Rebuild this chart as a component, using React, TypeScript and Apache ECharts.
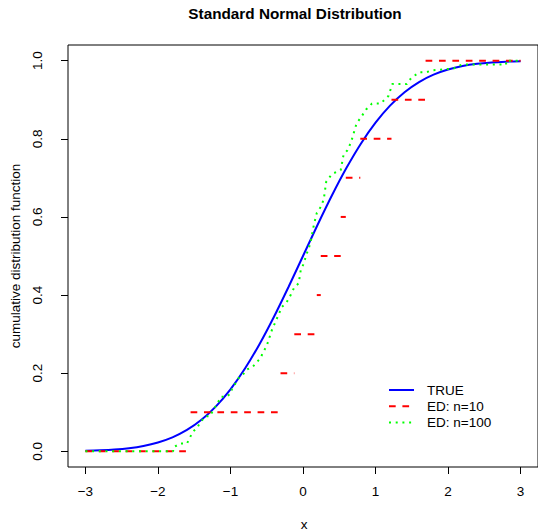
import React, { useEffect, useRef } from "react";
import * as echarts from "echarts";

// TRUE: standard normal CDF (table values)
const trueX = [-3, -2.8, -2.6, -2.4, -2.2, -2, -1.8, -1.6, -1.4, -1.2, -1, -0.8, -0.6, -0.4, -0.2, 0, 0.2, 0.4, 0.6, 0.8, 1, 1.2, 1.4, 1.6, 1.8, 2, 2.2, 2.4, 2.6, 2.8, 3];
const trueCdf = [0.0013, 0.0026, 0.0047, 0.0082, 0.0139, 0.0228, 0.0359, 0.0548, 0.0808, 0.1151, 0.1587, 0.2119, 0.2743, 0.3446, 0.4207, 0.5, 0.5793, 0.6554, 0.7257, 0.7881, 0.8413, 0.8849, 0.9192, 0.9452, 0.9641, 0.9772, 0.9861, 0.9918, 0.9953, 0.9974, 0.9987];

// ED n=10: step levels and segment bounds
const ed10Levels = [0, 0.1, 0.2, 0.3, 0.4, 0.5, 0.6, 0.7, 0.8, 0.9, 1.0];
const ed10Start = [-3, -1.55, -0.31, -0.12, 0.19, 0.245, 0.52, 0.59, 0.79, 1.22, 1.69];
const ed10End = [-1.55, -0.31, -0.12, 0.19, 0.245, 0.52, 0.59, 0.79, 1.22, 1.69, 3];

// ED n=100: path vertices
const ed100X = [-3, -1.79, -1.79, -1.69, -1.6, -1.56, -1.52, -1.46, -1.43, -1.39, -1.34, -1.28, -1.23, -1.18, -1.16, -1.13, -1.05, -0.99, -0.98, -0.91, -0.88, -0.81, -0.77, -0.7, -0.58, -0.56, -0.5, -0.43, -0.29, -0.23, -0.17, -0.12, -0.06, -0.03, 0.01, 0.04, 0.08, 0.11, 0.15, 0.19, 0.26, 0.29, 0.32, 0.36, 0.4, 0.52, 0.54, 0.56, 0.61, 0.66, 0.7, 0.74, 0.8, 0.87, 0.95, 1.07, 1.18, 1.23, 1.43, 1.49, 1.6, 1.69, 1.78, 2.08, 2.19, 2.8, 2.8, 3];
const ed100Y = [0, 0, 0.01, 0.02, 0.02, 0.035, 0.05, 0.06, 0.07, 0.08, 0.09, 0.09, 0.11, 0.12, 0.13, 0.14, 0.14, 0.15, 0.16, 0.18, 0.19, 0.2, 0.21, 0.215, 0.24, 0.25, 0.27, 0.31, 0.37, 0.38, 0.4, 0.42, 0.43, 0.465, 0.48, 0.5, 0.52, 0.54, 0.58, 0.61, 0.63, 0.65, 0.69, 0.7, 0.71, 0.72, 0.74, 0.76, 0.77, 0.79, 0.815, 0.84, 0.855, 0.875, 0.89, 0.89, 0.91, 0.94, 0.94, 0.955, 0.97, 0.97, 0.975, 0.98, 0.99, 0.99, 1.0, 1.0];

const xTicks = [-3, -2, -1, 0, 1, 2, 3];
const yTicks = [0, 0.2, 0.4, 0.6, 0.8, 1.0];

const FONT = "'Liberation Sans', Arial, Helvetica, sans-serif";

export default function App() {
  const ref = useRef<HTMLDivElement>(null);
  useEffect(() => {
    if (!ref.current) return;
    const chart = echarts.init(ref.current, null, { renderer: "svg" });
    const redSeries = ed10Levels.map((lv, i) => ({
      type: "line",
      name: "ED: n=10",
      data: [[ed10Start[i], lv], [ed10End[i], lv]],
      symbol: "none",
      lineStyle: { color: "#FF0000", width: 2, type: [6.7, 6.7] },
      itemStyle: { color: "#FF0000" },
      silent: true,
      z: 3,
    }));
    chart.setOption({
      animation: false,
      textStyle: { fontFamily: FONT },
      grid: { left: 68, top: 45, width: 472, height: 422, show: true, borderColor: "#000", borderWidth: 1, backgroundColor: "transparent" },
      xAxis: {
        type: "value",
        min: -3.24,
        max: 3.24,
        axisLine: { show: false, onZero: false },
        splitLine: { show: false },
        axisTick: { show: true, inside: false, length: 7, lineStyle: { color: "#000" }, customValues: xTicks },
        axisLabel: {
          customValues: xTicks,
          margin: 17,
          color: "#000",
          fontSize: 13.5,
          fontFamily: FONT,
          formatter: (v: number) => (v < 0 ? "\u2212" + Math.abs(v) : String(v)),
        },
      },
      yAxis: {
        type: "value",
        min: -0.04,
        max: 1.04,
        axisLine: { show: false, onZero: false },
        splitLine: { show: false },
        axisTick: { show: true, inside: false, length: 7, lineStyle: { color: "#000" }, customValues: yTicks },
        axisLabel: {
          customValues: yTicks,
          rotate: 90,
          margin: 24,
          color: "#000",
          fontSize: 13.5,
          fontFamily: FONT,
          formatter: (v: number) => v.toFixed(1),
        },
      },
      legend: {
        orient: "vertical",
        left: 388,
        top: 382,
        itemWidth: 25,
        itemHeight: 16,
        itemGap: 0.3,
        padding: 0,
        itemStyle: { opacity: 0 },
        data: ["TRUE", "ED: n=10", "ED: n=100"],
        textStyle: { color: "#000", fontSize: 13.5, fontFamily: FONT, lineHeight: 16, padding: [0, 0, 0, 8] },
      },
      graphic: [
        {
          type: "text",
          x: 295,
          y: 13,
          style: { text: "Standard Normal Distribution", font: `bold 15.3px ${FONT}`, fill: "#000", textAlign: "center", textVerticalAlign: "middle" },
        },
        {
          type: "text",
          x: 304,
          y: 524,
          style: { text: "x", font: `13.5px ${FONT}`, fill: "#000", textAlign: "center", textVerticalAlign: "middle" },
        },
        {
          type: "text",
          x: 15,
          y: 256,
          rotation: Math.PI / 2,
          style: { text: "cumulative distribution function", font: `13.5px ${FONT}`, fill: "#000", textAlign: "center", textVerticalAlign: "middle" },
        },
      ],
      series: [
        {
          type: "line",
          name: "TRUE",
          data: trueX.map((x, i) => [x, trueCdf[i]]),
          symbol: "none",
          smooth: 0.3,
          lineStyle: { color: "#0000FF", width: 2 },
          itemStyle: { color: "#0000FF" },
          silent: true,
          z: 2,
        },
        ...redSeries,
        {
          type: "line",
          name: "ED: n=100",
          data: ed100X.map((x, i) => [x, ed100Y[i]]),
          symbol: "none",
          lineStyle: { color: "#00FF00", width: 2, type: [2, 4.7] },
          itemStyle: { color: "#00FF00" },
          silent: true,
          z: 4,
        },
      ],
    });
    return () => chart.dispose();
  }, []);
  return <div ref={ref} style={{ position: "absolute", left: 0, top: 0, width: 538, height: 530 }} />;
}
